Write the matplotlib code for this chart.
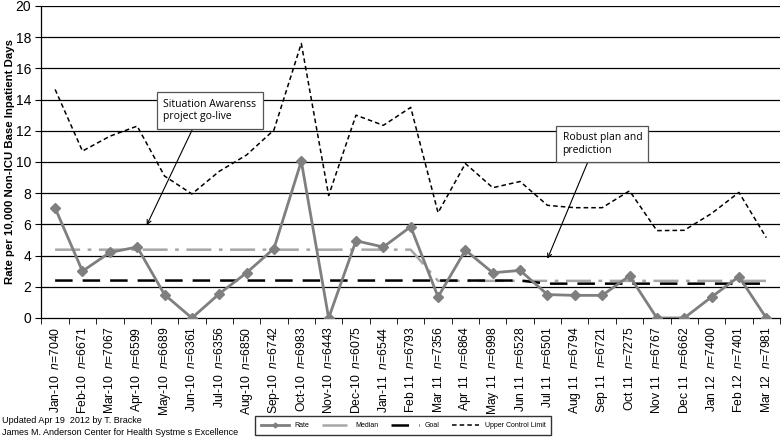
import matplotlib.pyplot as plt
import numpy as np

plt.rcParams["font.family"] = ["Liberation Sans", "DejaVu Sans"]
plt.rcParams["mathtext.fontset"] = "custom"
plt.rcParams["mathtext.it"] = "Liberation Sans:italic"
plt.rcParams["mathtext.rm"] = "Liberation Sans"

months = ["Jan-10", "Feb-10", "Mar-10", "Apr-10", "May-10", "Jun-10", "Jul-10",
          "Aug-10", "Sep-10", "Oct-10", "Nov-10", "Dec-10", "Jan-11", "Feb 11",
          "Mar 11", "Apr 11", "May 11", "Jun 11", "Jul 11", "Aug 11", "Sep 11",
          "Oct 11", "Nov 11", "Dec 11", "Jan 12", "Feb 12", "Mar 12"]
n_days = [7040, 6671, 7067, 6599, 6689, 6361, 6356, 6850, 6742, 6983, 6443,
          6075, 6544, 6793, 7356, 6864, 6998, 6528, 6501, 6794, 6721, 7275,
          6767, 6662, 7400, 7401, 7981]
rate = [7.05, 3.0, 4.2, 4.55, 1.5, 0.0, 1.55, 2.9, 4.45, 10.05, 0.0, 4.95,
        4.55, 5.85, 1.35, 4.35, 2.9, 3.05, 1.5, 1.45, 1.45, 2.7, 0.0, 0.0,
        1.35, 2.65, 0.0]
median = [4.38] * 14 + [2.38] * 13
goal = [2.4] * 18 + [2.2] * 9
ucl = [14.65, 10.7, 11.65, 12.3, 9.1, 7.95, 9.4, 10.45, 12.05, 17.6, 7.85,
       13.0, 12.35, 13.5, 6.75, 9.9, 8.35, 8.75, 7.22, 7.07, 7.07, 8.15,
       5.6, 5.62, 6.7, 8.05, 5.15]

x = np.arange(len(months))

fig = plt.figure(figsize=(7.82, 4.4), dpi=100)
ax = fig.add_axes([0.0530, 0.2773, 0.9444, 0.7091])

for yv in range(2, 21, 2):
    ax.axhline(yv, color="black", linewidth=0.9, zorder=0)

ax.plot(x, rate, color="#7f7f7f", linewidth=2, marker="D", markersize=5,
        label="Rate", zorder=4)
ax.plot(x, median, color="#a6a6a6", linewidth=1.8, linestyle=(0, (10, 3, 1.5, 3)),
        label="Median", zorder=3)
ax.plot(x, goal, color="black", linewidth=1.8, linestyle=(0, (7, 4)),
        label="Goal", zorder=3)
ax.plot(x, ucl, color="black", linewidth=1.1, linestyle=(0, (3, 2)),
        label="Upper Control Limit", zorder=3)

ax.set_xlim(-0.5, len(months) - 0.5)
ax.set_ylim(0, 20)
ax.set_yticks(range(0, 21, 2))
ax.tick_params(axis="y", labelsize=10, length=4, direction="out")

ax.set_xticks(x)
ax.set_xticklabels([f"{m}  $n$={n}" for m, n in zip(months, n_days)],
                   rotation=90, fontsize=8.7)
ax.tick_params(axis="x", length=0, pad=6)
ax.set_xticks(np.arange(-0.5, len(months), 1), minor=True)
ax.tick_params(axis="x", which="minor", length=4, direction="out")

for side in ["top", "right"]:
    ax.spines[side].set_visible(False)
ax.spines["left"].set_linewidth(0.9)
ax.spines["bottom"].set_linewidth(0.9)

ax.set_ylabel("Rate per 10,000 Non-ICU Base Inpatient Days", fontsize=8.2,
              fontweight="bold")
ax.yaxis.set_label_coords(-0.036, 0.5)

box = dict(boxstyle="square,pad=0.6", facecolor="white", edgecolor="#555555",
           linewidth=0.9)
ax.annotate("Situation Awarenss\nproject go-live", xy=(3.35, 5.95),
            xytext=(3.95, 13.3), fontsize=7.5, ha="left", va="center",
            family=["Open Sans", "DejaVu Sans"], bbox=box, zorder=6,
            arrowprops=dict(arrowstyle="->", color="black", linewidth=0.8,
                            shrinkA=0, shrinkB=0,
                            relpos=(0.35, 0.0)))
ax.annotate("Robust plan and\nprediction", xy=(18.0, 3.8),
            xytext=(18.55, 11.15), fontsize=7.5, ha="left", va="center",
            family=["Open Sans", "DejaVu Sans"], bbox=box, zorder=6,
            arrowprops=dict(arrowstyle="->", color="black", linewidth=0.8,
                            shrinkA=0, shrinkB=0,
                            relpos=(0.35, 0.0)))

fig.legend(loc="lower left", bbox_to_anchor=(252 / 782, 2 / 440),
           ncol=4, fontsize=5, frameon=True, fancybox=False,
           edgecolor="black", handlelength=4, columnspacing=1.8,
           borderpad=0.8, markerscale=0.5)

fig.text(0.003, 20 / 440, "Updated Apr 19  2012 by T. Bracke", fontsize=6.5,
         va="center")
fig.text(0.003, 8 / 440, "James M. Anderson Center for Health Systme s Excellence",
         fontsize=6.5, va="center")

fig.savefig("out.png", dpi=100)
